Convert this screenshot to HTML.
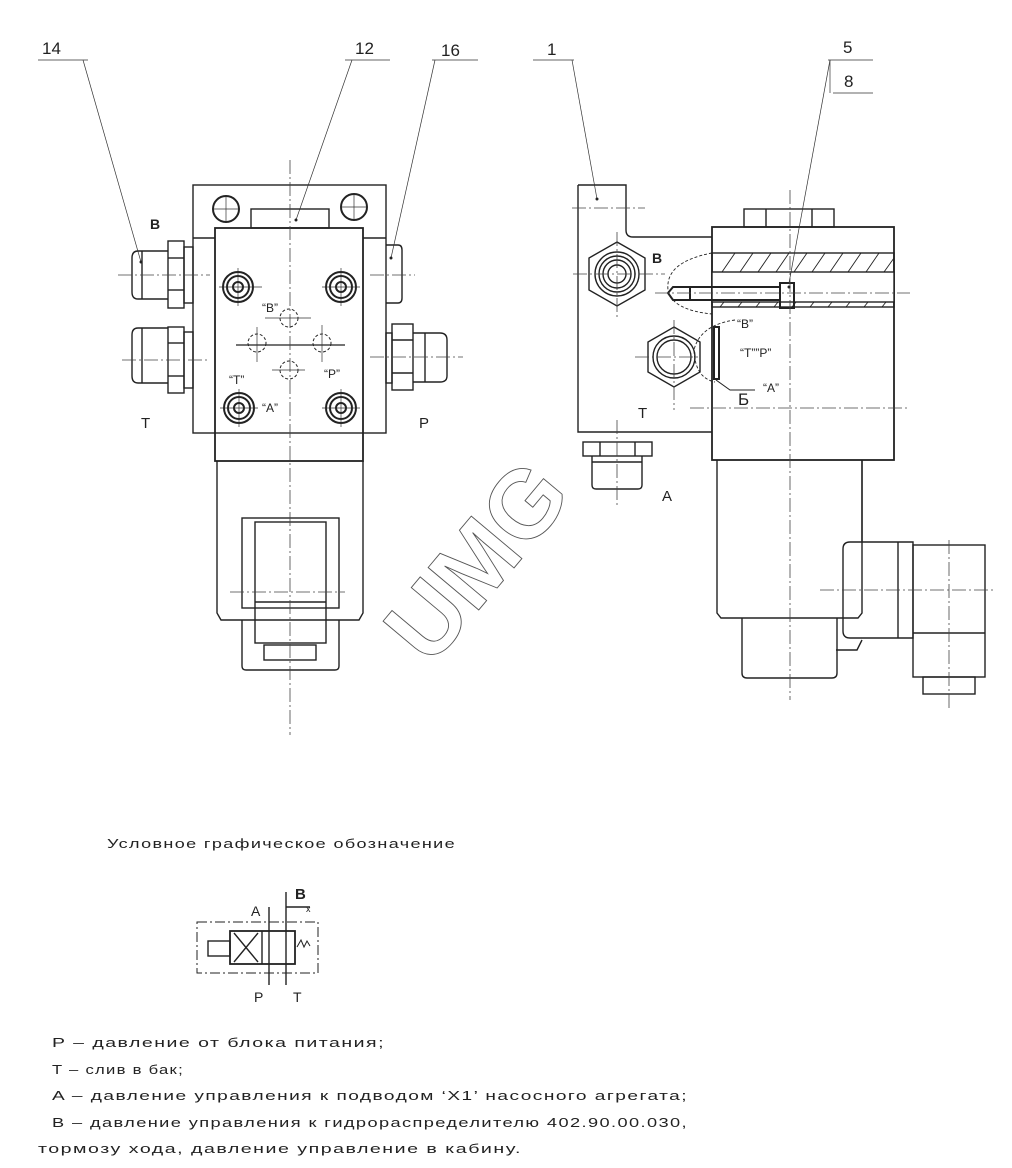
<!DOCTYPE html>
<html><head><meta charset="utf-8"><style>
html,body{margin:0;padding:0;background:#fff}
svg{display:block}
text{font-family:"Liberation Sans","DejaVu Sans",sans-serif;fill:#222}
text.wm{fill:none;stroke:#555;stroke-width:0.9}
</style></head><body>
<svg width="1012" height="1168" viewBox="0 0 1012 1168" xmlns="http://www.w3.org/2000/svg">
<g fill="none" stroke="#222" stroke-width="1.4">
<!-- LEFT VIEW -->
<rect x="193" y="185" width="193" height="248"/>
<line x1="193" y1="238" x2="215" y2="238"/><line x1="363" y1="238" x2="386" y2="238"/>
<rect x="215" y="228" width="148" height="233" stroke-width="1.8"/>
<rect x="251" y="209" width="78" height="19"/>
<circle cx="226" cy="209" r="13" stroke-width="2"/><circle cx="354" cy="207" r="13" stroke-width="2"/>
<g stroke-width="2">
<circle cx="238" cy="287" r="15"/><circle cx="238" cy="287" r="11"/><circle cx="238" cy="287" r="5"/>
<circle cx="341" cy="287" r="15"/><circle cx="341" cy="287" r="11"/><circle cx="341" cy="287" r="5"/>
<circle cx="239" cy="408" r="15"/><circle cx="239" cy="408" r="11"/><circle cx="239" cy="408" r="5"/>
<circle cx="341" cy="408" r="15"/><circle cx="341" cy="408" r="11"/><circle cx="341" cy="408" r="5"/>
</g>
<g stroke-dasharray="3,2" stroke-width="1">
<circle cx="289" cy="318" r="9"/><circle cx="257" cy="343" r="9"/><circle cx="322" cy="343" r="9"/><circle cx="289" cy="370" r="9"/>
</g>
<line x1="236" y1="345" x2="345" y2="345" stroke-width="1.2"/>
<path d="M217 461 V613 L221 620 H359 L363 613 V461"/>
<rect x="242" y="518" width="97" height="90"/>
<rect x="255" y="522" width="71" height="121"/>
<line x1="255" y1="602" x2="326" y2="602"/>
<path d="M242 620 V666 Q242 670 246 670 H335 Q339 670 339 666 V620"/>
<rect x="264" y="645" width="52" height="15"/>
<rect x="168" y="241" width="16" height="67"/><rect x="184" y="247" width="9" height="56"/>
<line x1="168" y1="258" x2="184" y2="258"/><line x1="168" y1="290" x2="184" y2="290"/>
<path d="M168 251 H138 Q132 251 132 258 V292 Q132 299 138 299 H168"/><line x1="142" y1="251" x2="142" y2="299"/>
<rect x="168" y="327" width="16" height="66"/><rect x="184" y="332" width="9" height="56"/>
<line x1="168" y1="343" x2="184" y2="343"/><line x1="168" y1="376" x2="184" y2="376"/>
<path d="M168 328 H138 Q132 328 132 335 V376 Q132 383 138 383 H168"/><line x1="142" y1="328" x2="142" y2="383"/>
<path d="M386 245 H398 Q402 245 402 250 V298 Q402 303 398 303 H386"/>
<rect x="392" y="324" width="21" height="66"/><rect x="386" y="333" width="6" height="50"/>
<line x1="392" y1="340" x2="413" y2="340"/><line x1="392" y1="373" x2="413" y2="373"/>
<path d="M413 333 H440 Q447 333 447 340 V376 Q447 382 440 382 H413"/><line x1="425" y1="333" x2="425" y2="382"/>

<!-- RIGHT VIEW -->
<path d="M578 185 H626 V230 Q626 237 633 237 H712 M578 185 V432 H712"/>
<rect x="712" y="227" width="182" height="233" stroke-width="1.8"/>
<rect x="744" y="209" width="90" height="18"/><line x1="766" y1="209" x2="766" y2="227"/><line x1="812" y1="209" x2="812" y2="227"/>
<rect x="712" y="253" width="182" height="54"/>
<rect x="712" y="272" width="182" height="30" fill="#fff"/>
<g stroke-width="0.9">
<path d="M722 272 L735 253 M740 272 L753 253 M758 272 L771 253 M776 272 L789 253 M794 272 L807 253 M812 272 L825 253 M830 272 L843 253 M848 272 L861 253 M866 272 L879 253 M884 272 L894 258"/>
<path d="M720 307 L724 302 M738 307 L742 302 M756 307 L760 302 M774 307 L778 302 M792 307 L796 302 M810 307 L814 302 M828 307 L832 302 M846 307 L850 302 M864 307 L868 302 M882 307 L886 302"/>
<path d="M712 253 Q665 262 668 290 Q672 310 712 314" stroke-dasharray="3,2"/>
<path d="M735 320 Q700 325 694 350 Q695 378 715 382" stroke-dasharray="3,2"/>
</g>
<path d="M668 293 L673 287 H690 V300 H673 Z M673 287 H780 M673 300 H780" stroke-width="2"/>
<rect x="780" y="283" width="14" height="25" stroke-width="2"/>
<rect x="714" y="327" width="5" height="52" stroke-width="2"/>
<polygon points="617,242 645,258 645,290 617,306 589,290 589,258"/>
<circle cx="617" cy="274" r="22"/><circle cx="617" cy="274" r="18"/><circle cx="617" cy="274" r="14"/><circle cx="617" cy="274" r="9"/>
<polygon points="674,327 700,342 700,372 674,387 648,372 648,342"/>
<circle cx="674" cy="357" r="21"/><circle cx="674" cy="357" r="17"/>
<path d="M716 380 L730 390 H755" stroke-width="1"/>
<rect x="583" y="442" width="69" height="14"/><line x1="600" y1="442" x2="600" y2="456"/><line x1="635" y1="442" x2="635" y2="456"/>
<path d="M592 456 V485 Q592 489 596 489 H638 Q642 489 642 485 V456"/><line x1="592" y1="462" x2="642" y2="462"/>
<path d="M717 460 V613 L721 618 H858 L862 613 V460"/>
<path d="M742 618 V673 Q742 678 747 678 H832 Q837 678 837 673 V618"/>
<line x1="862" y1="460" x2="862" y2="542"/>
<path d="M850 542 H913 V638 H850 Q843 638 843 631 V549 Q843 542 850 542 Z"/>
<line x1="898" y1="542" x2="898" y2="638"/>
<rect x="913" y="545" width="72" height="132"/><line x1="913" y1="633" x2="985" y2="633"/>
<rect x="923" y="677" width="52" height="17"/>
<path d="M862 640 L857 650 H836"/>
</g>
<g fill="none" stroke="#444" stroke-width="0.8" stroke-dasharray="14,3,2,3">
<line x1="290" y1="160" x2="290" y2="735"/>
<line x1="790" y1="190" x2="790" y2="700"/>
<line x1="118" y1="275" x2="210" y2="275"/><line x1="122" y1="360" x2="210" y2="360"/>
<line x1="370" y1="275" x2="415" y2="275"/><line x1="370" y1="357" x2="463" y2="357"/>
<line x1="230" y1="592" x2="345" y2="592"/>
<line x1="572" y1="208" x2="645" y2="208"/>
<line x1="573" y1="274" x2="665" y2="274"/><line x1="635" y1="357" x2="700" y2="357"/>
<line x1="655" y1="293" x2="910" y2="293"/>
<line x1="690" y1="408" x2="910" y2="408"/>
<line x1="617" y1="420" x2="617" y2="505"/>
<line x1="820" y1="590" x2="995" y2="590"/>
<line x1="949" y1="540" x2="949" y2="710"/>
<line x1="674" y1="320" x2="674" y2="410"/><line x1="617" y1="232" x2="617" y2="320"/>
</g>
<g fill="none" stroke="#333" stroke-width="0.7">
<line x1="213" y1="209" x2="240" y2="209"/><line x1="226" y1="196" x2="226" y2="222"/>
<line x1="340" y1="207" x2="368" y2="207"/><line x1="354" y1="194" x2="354" y2="220"/>
<line x1="219" y1="287" x2="262" y2="287"/><line x1="238" y1="268" x2="238" y2="306"/>
<line x1="322" y1="287" x2="360" y2="287"/><line x1="341" y1="268" x2="341" y2="306"/>
<line x1="220" y1="408" x2="258" y2="408"/><line x1="239" y1="389" x2="239" y2="427"/>
<line x1="322" y1="408" x2="360" y2="408"/><line x1="341" y1="389" x2="341" y2="427"/>
<line x1="265" y1="318" x2="311" y2="318"/><line x1="272" y1="370" x2="305" y2="370"/>
<line x1="257" y1="327" x2="257" y2="362"/><line x1="322" y1="325" x2="322" y2="362"/>
<line x1="38" y1="60" x2="88" y2="60"/><line x1="83" y1="60" x2="141" y2="262"/>
<line x1="345" y1="60" x2="390" y2="60"/><line x1="352" y1="60" x2="296" y2="220"/>
<line x1="432" y1="60" x2="478" y2="60"/><line x1="435" y1="60" x2="391" y2="258"/>
<line x1="533" y1="60" x2="574" y2="60"/><line x1="572" y1="60" x2="597" y2="199"/>
<line x1="828" y1="60" x2="873" y2="60"/><line x1="833" y1="93" x2="873" y2="93"/><line x1="830" y1="60" x2="830" y2="93"/>
<line x1="830" y1="60" x2="789" y2="283"/>
</g>
<g fill="#222"><circle cx="141" cy="262" r="1.5"/><circle cx="296" cy="220" r="1.5"/><circle cx="391" cy="258" r="1.5"/><circle cx="597" cy="199" r="1.5"/><circle cx="789" cy="287" r="1.5"/></g>
<g font-size="17">
<text x="42" y="54">14</text><text x="355" y="54">12</text><text x="441" y="56">16</text><text x="547" y="55">1</text><text x="843" y="53">5</text><text x="844" y="87">8</text>
</g>
<g font-size="14" font-weight="bold"><text x="150" y="229">B</text><text x="652" y="263">B</text></g>
<g font-size="15"><text x="141" y="428">T</text><text x="419" y="428">P</text><text x="638" y="418">T</text><text x="662" y="501">A</text></g>
<g font-size="12" fill="#555"><text x="262" y="312">“B”</text><text x="229" y="384">“T”</text><text x="324" y="378">“P”</text><text x="262" y="412">“A”</text>
<text x="737" y="328">“B”</text><text x="740" y="357">“T””P”</text><text x="763" y="392">“A”</text></g>
<text x="738" y="405" font-size="17">Б</text>
<text class="wm" x="0" y="0" transform="translate(430,668) rotate(-50)" font-size="96" font-weight="bold">UMG</text>
<g fill="none" stroke="#222" stroke-width="1.4">
<rect x="197" y="922" width="121" height="51" stroke-dasharray="10,3,2,3" stroke-width="1"/>
<rect x="230" y="931" width="65" height="33" stroke-width="1.8"/>
<line x1="262" y1="931" x2="262" y2="964"/>
<path d="M234 933 L258 962 M258 933 L234 962"/>
<rect x="208" y="941" width="22" height="15"/>
<line x1="269" y1="907" x2="269" y2="985"/>
<line x1="286" y1="892" x2="286" y2="985"/>
<line x1="286" y1="907" x2="310" y2="907"/>
<path d="M297 947 L301 940 L304 947 L307 941 L310 946" stroke-width="1"/>
</g>
<text x="251" y="916" font-size="14">A</text><text x="295" y="899" font-size="15" font-weight="bold">B</text><text x="306" y="912" font-size="9">x</text>
<text x="254" y="1002" font-size="14">P</text><text x="293" y="1002" font-size="14">T</text>
<g font-size="13" letter-spacing="1">
<text x="107" y="848" textLength="349" lengthAdjust="spacingAndGlyphs">Условное графическое обозначение</text>
<text x="52" y="1047" textLength="333" lengthAdjust="spacingAndGlyphs">P – давление от блока питания;</text>
<text x="52" y="1074" textLength="132" lengthAdjust="spacingAndGlyphs">T – слив в бак;</text>
<text x="52" y="1100" textLength="636" lengthAdjust="spacingAndGlyphs">A – давление управления к подводом ‘X1’ насосного агрегата;</text>
<text x="52" y="1127" textLength="636" lengthAdjust="spacingAndGlyphs">B – давление управления к гидрораспределителю 402.90.00.030,</text>
<text x="38" y="1153" textLength="484" lengthAdjust="spacingAndGlyphs">тормозу хода, давление управление в кабину.</text>
</g>
</svg>
</body></html>
